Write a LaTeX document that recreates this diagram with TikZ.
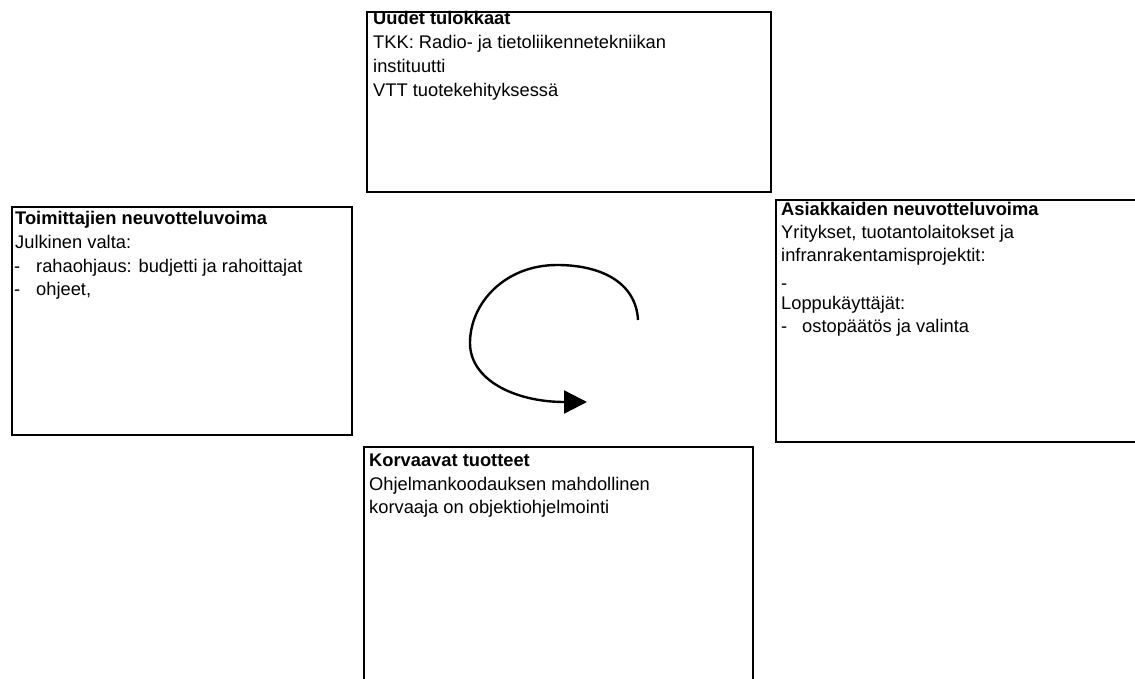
\documentclass[tikz,border=0pt]{standalone}
\usepackage{fontspec}
\setmainfont{Liberation Sans}
\usetikzlibrary{arrows.meta}
\tikzset{
  frame/.style={draw=black, line width=2.3pt},
  txt/.style={anchor=base west, inner sep=0pt, font=\fontsize{18.3}{22}\selectfont},
  ttl/.style={txt, font=\fontsize{18.3}{22}\selectfont\bfseries},
  cycle arrow/.style={line width=2.4pt, -{Triangle[length=23pt,width=23pt]}}
}
\begin{document}
\begin{tikzpicture}[x=1pt,y=-1pt]
\useasboundingbox (0,0) rectangle (1135,679);
\fill[white] (0,0) rectangle (1135,679);

% frames
\draw[frame] (367,12) rectangle (771,192);
\draw[frame] (12,207) rectangle (352,435);
\draw[frame] (1140,200) -- (776,200) -- (776,442) -- (1140,442);
\draw[frame] (364,685) -- (364,447) -- (753,447) -- (753,685);

% new entrants
\node[ttl] (t0) at (373,25) {Uudet tulokkaat};
\node[txt] (t1) at (373,49) {TKK: Radio- ja tietoliikennetekniikan};
\node[txt] (t2) at (373,73) {instituutti};
\node[txt] (t3) at (373,97) {VTT tuotekehityksessä};

% suppliers
\node[ttl] (l0) at (15,225) {Toimittajien neuvotteluvoima};
\node[txt] (l1) at (15,248) {Julkinen valta:};
\node[txt] (l2d) at (14,272) {-};
\node[txt] (l2) at (36,272) {rahaohjaus: budjetti ja rahoittajat};
\node[txt] (l3d) at (14,295) {-};
\node[txt] (l3) at (36,295) {ohjeet,};

% customers
\node[ttl] (r0) at (781,215) {Asiakkaiden neuvotteluvoima};
\node[txt] (r1) at (781,238) {Yritykset, tuotantolaitokset ja};
\node[txt] (r2) at (781,261) {infranrakentamisprojektit:};
\node[txt] (r3) at (781,289) {-};
\node[txt] (r4) at (781,309) {Loppukäyttäjät:};
\node[txt] (r5d) at (781,332) {-};
\node[txt] (r5) at (802,332) {ostopäätös ja valinta};

% substitutes
\node[ttl] (b0) at (369,466) {Korvaavat tuotteet};
\node[txt] (b1) at (369,490) {Ohjelmankoodauksen mahdollinen};
\node[txt] (b2) at (369,513) {korvaaja on objektiohjelmointi};

% cycle arrow
\coordinate (cs) at (638,320);
\coordinate (ce) at (587,402);
\draw[cycle arrow] (cs) .. controls (636,283) and (602,265) .. (557,265)
  .. controls (505,265) and (470,303) .. (470,343)
  .. controls (470,380) and (515,402) .. (ce);
\end{tikzpicture}
\end{document}
